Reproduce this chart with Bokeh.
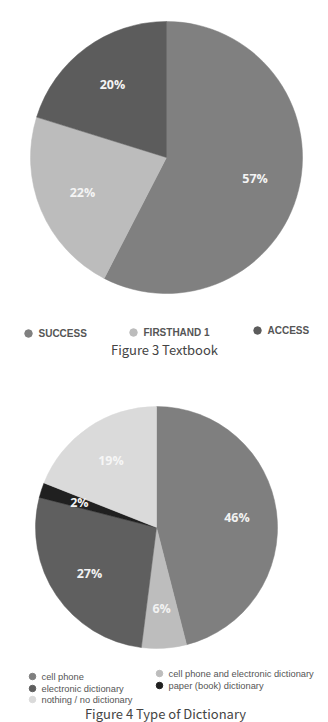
import numpy as np
from bokeh.plotting import figure
from bokeh.models import Range1d, ColumnDataSource
from bokeh.core.properties import value
from bokeh.embed import file_html
from bokeh.resources import INLINE

# ---- data ----
fig3_categories = ["SUCCESS", "FIRSTHAND 1", "ACCESS"]
fig3_values = [57, 22, 20]
fig3_colors = ["#808080", "#bcbcbc", "#5c5c5c"]
fig3_title = "Figure 3 Textbook"

fig4_categories = ["cell phone", "cell phone and electronic dictionary",
                   "electronic dictionary", "paper (book) dictionary",
                   "nothing / no dictionary"]
fig4_values = [46, 6, 27, 2, 19]
fig4_colors = ["#7f7f7f", "#bdbdbd", "#5f5f5f", "#202020", "#dadada"]
fig4_title = "Figure 4 Type of Dictionary"

W, H = 328, 722
p = figure(width=W, height=H, output_backend="svg", toolbar_location=None,
           x_range=Range1d(0, W), y_range=Range1d(0, H), min_border=0)
p.axis.visible = False
p.grid.visible = False
p.outline_line_color = None
p.background_fill_color = "white"
p.border_fill_color = "white"

FONT = value("Open Sans")


def draw_pie(vals, colors, cx, cy, r, label_colors):
    v = np.array(vals, dtype=float)
    frac = v / v.sum()
    cum = np.concatenate([[0], np.cumsum(frac)])
    start = np.pi / 2 - cum[:-1] * 2 * np.pi
    end = np.pi / 2 - cum[1:] * 2 * np.pi
    src = ColumnDataSource(dict(start=start, end=end, color=colors))
    p.wedge(x=cx, y=cy, radius=r, start_angle="start", end_angle="end",
            direction="clock", fill_color="color", line_color="color",
            line_width=0.5, source=src)
    mid = (start + end) / 2
    lr = 0.67 * r
    lsrc = ColumnDataSource(dict(
        x=cx + lr * np.cos(mid), y=cy + lr * np.sin(mid),
        t=["%d%%" % x for x in vals], c=label_colors))
    p.text(x="x", y="y", text="t", text_color="c", text_font=FONT,
           text_font_style="bold", text_font_size="12.5px",
           text_align="center", text_baseline="middle", source=lsrc)


# Figure 3 pie
draw_pie(fig3_values, fig3_colors, 166, H - 157, 136,
         ["#f4f4f4", "#f4f4f4", "#f4f4f4"])

# Figure 3 legend
leg3_x = [28, 133, 257]
leg3_y = [H - 333, H - 332, H - 330]
p.scatter(x=leg3_x, y=leg3_y, size=7.5, marker="circle",
          fill_color=fig3_colors, line_color=fig3_colors)
p.text(x=[x + 10 for x in leg3_x], y=leg3_y, text=fig3_categories,
       text_font=value("Liberation Sans"), text_font_style="bold",
       text_font_size="10px", text_color="#555555",
       text_baseline="middle", text_align="left")
p.text(x=[164], y=[H - 349], text=[fig3_title],
       text_font=value("Noto Sans CJK JP"), text_font_size="13px",
       text_color="#444444", text_align="center", text_baseline="middle")

# Figure 4 pie
draw_pie(fig4_values, fig4_colors, 156, H - 527, 121,
         ["#f2f2f2", "#f2f2f2", "#f2f2f2", "#f2f2f2", "#f6f6f6"])

# Figure 4 legend
leg4_x = [32, 159, 32, 159, 32]
leg4_y = [H - 676, H - 673, H - 688, H - 685, H - 699]
p.scatter(x=leg4_x, y=leg4_y, size=6.5, marker="circle",
          fill_color=fig4_colors, line_color=fig4_colors)
p.text(x=[x + 9 for x in leg4_x], y=leg4_y, text=fig4_categories,
       text_font=value("Liberation Sans"), text_font_size="9.3px",
       text_color="#555555", text_baseline="middle", text_align="left")
p.text(x=[165], y=[H - 713], text=[fig4_title],
       text_font=value("Noto Sans CJK JP"), text_font_size="13px",
       text_color="#444444", text_align="center", text_baseline="middle")

open("out.html", "w").write(file_html(p, INLINE))
